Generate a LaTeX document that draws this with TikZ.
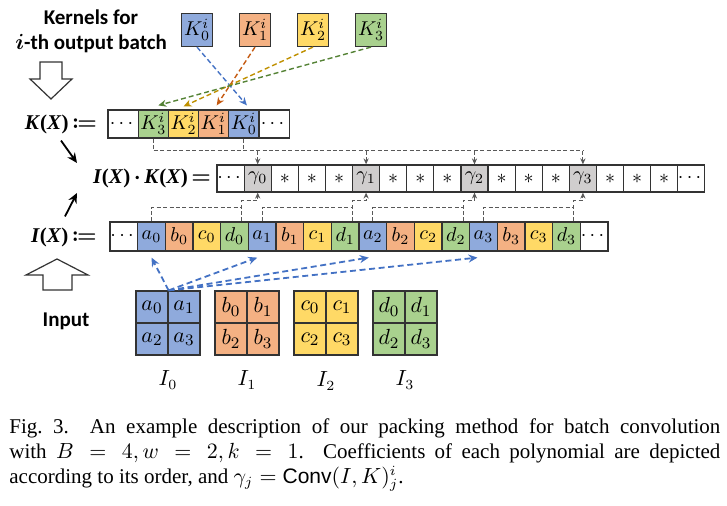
\documentclass[tikz,border=0pt]{standalone}
\usepackage{amsmath,mathtools}
\usepackage{fontspec}
\setmainfont{Liberation Serif}
\newfontfamily\lblfont{Carlito}
\newfontfamily\capsans{Liberation Sans}
\usetikzlibrary{arrows.meta,calc}

\definecolor{cblue}{HTML}{8FAADC}
\definecolor{corange}{HTML}{F4B183}
\definecolor{cyellow}{HTML}{FFD966}
\definecolor{cgreen}{HTML}{A9D18E}
\definecolor{cgray}{HTML}{D0CECE}
\definecolor{dblue}{HTML}{4472C4}
\definecolor{dorange}{HTML}{C55A11}
\definecolor{dyellow}{HTML}{BF9000}
\definecolor{dgreen}{HTML}{548235}

\newcommand{\bx}[1]{\textbf{\textit{#1}}}

\tikzset{
  box/.style={draw=black!80, line width=0.6pt, inner sep=0pt, font=\fontsize{10}{12}\selectfont},
  kcell/.style={box, minimum width=15.1pt, minimum height=14pt},
  gcell/.style={box, minimum width=13.55pt, minimum height=13.5pt},
  icell/.style={box, minimum width=13.83pt, minimum height=14.5pt},
  mcell/.style={box, minimum width=16pt, minimum height=16pt, font=\fontsize{11}{13}\selectfont},
  kern/.style={box, minimum width=15.5pt, minimum height=16.5pt},
  link/.style={draw=black!65, line width=0.5pt, dash pattern=on 2pt off 1.2pt},
  karrow/.style={line width=0.7pt, dash pattern=on 2.5pt off 1.5pt, -{Stealth[length=4pt,width=3.5pt]}},
  iarrow/.style={draw=dblue, line width=0.9pt, dash pattern=on 3pt off 1.8pt, -{Stealth[length=4.5pt,width=4pt]}},
  barrow/.style={line width=0.9pt, -{Stealth[length=5pt,width=4.5pt]}},
  blockarrow/.style={draw=black!80, line width=0.6pt, fill=white},
  lbl/.style={font=\fontsize{10.5}{12.5}\selectfont}
}

\begin{document}
\begin{tikzpicture}[x=0.5pt,y=-0.5pt,>={Stealth[length=3pt,width=2.6pt]}]
\useasboundingbox (0,0) rectangle (727,506);

%left side texts
\node[font=\fontsize{10.5}{12.5}\lblfont\bfseries, align=center] (title) at (91,31) {Kernels for\\ $\boldsymbol{i}$-th output batch};
\node[font=\fontsize{10.5}{12.5}\lblfont\bfseries] (input) at (66,321) {Input};
\draw[blockarrow] (40,62) -- (62,62) -- (62,79) -- (72,79) -- (51,99) -- (30,79) -- (40,79) -- cycle; %down
\draw[blockarrow] (43,290) -- (72,290) -- (72,275) -- (88,275) -- (57,259) -- (26,275) -- (43,275) -- cycle; %up

\node[lbl] (lblK) at (61,124) {\bx{K}\textbf{(}\bx{X}\textbf{)}\,{\boldmath$\coloneqq$}};
\node[lbl] (lblIK) at (152,178) {\bx{I}\textbf{(}\bx{X}\textbf{)}\,{\boldmath$\cdot$}\,\bx{K}\textbf{(}\bx{X}\textbf{)}\,{\boldmath$=$}};
\node[lbl] (lblI) at (64,237) {\bx{I}\textbf{(}\bx{X}\textbf{)}\,{\boldmath$\coloneqq$}};
\draw[barrow] (lblK.south) -- ($(lblIK.west)+(-9,-15)$);
\draw[barrow] ($(lblI.north)+(1,-4)$) -- ($(lblIK.west)+(-9,15)$);

%kernels
\node[kern,fill=cblue] (kern0) at (197,30) {$K_0^i$};
\node[kern,fill=corange] (kern1) at (255,30) {$K_1^i$};
\node[kern,fill=cyellow] (kern2) at (313,30) {$K_2^i$};
\node[kern,fill=cgreen] (kern3) at (371,30) {$K_3^i$};

%K(X)
\node[kcell] (kc0) at (123.1,124) {$\cdots$};
\node[kcell,fill=cgreen] (kc1) at (153.3,124) {$K_3^i$};
\node[kcell,fill=cyellow] (kc2) at (183.5,124) {$K_2^i$};
\node[kcell,fill=corange] (kc3) at (213.7,124) {$K_1^i$};
\node[kcell,fill=cblue] (kc4) at (243.9,124) {$K_0^i$};
\node[kcell] (kc5) at (274.1,124) {$\cdots$};

\draw[karrow,draw=dblue] (kern0.south) -- ($(kc4.north)+(3,-4)$);
\draw[karrow,draw=dorange] (kern1.south) -- ($(kc3.north)+(3,-4)$);
\draw[karrow,draw=dyellow] (kern2.south) -- ($(kc2.north)+(0,-3)$);
\draw[karrow,draw=dgreen] (kern3.south) -- ($(kc1.north)+(5,-4)$);

%I(X)K(X)
\node[gcell] (gl) at (230.6,178.5) {$\cdots$};
\node[gcell,fill=cgray] (g0) at (257.7,178.5) {$\gamma_0$};
\node[gcell] (s1) at (284.8,178.5) {$*$};
\node[gcell] (s2) at (311.9,178.5) {$*$};
\node[gcell] (s3) at (339.0,178.5) {$*$};
\node[gcell,fill=cgray] (g1) at (366.1,178.5) {$\gamma_1$};
\node[gcell] (s4) at (393.2,178.5) {$*$};
\node[gcell] (s5) at (420.3,178.5) {$*$};
\node[gcell] (s6) at (447.4,178.5) {$*$};
\node[gcell,fill=cgray] (g2) at (474.5,178.5) {$\gamma_2$};
\node[gcell] (s7) at (501.6,178.5) {$*$};
\node[gcell] (s8) at (528.7,178.5) {$*$};
\node[gcell] (s9) at (555.8,178.5) {$*$};
\node[gcell,fill=cgray] (g3) at (582.9,178.5) {$\gamma_3$};
\node[gcell] (s10) at (610.0,178.5) {$*$};
\node[gcell] (s11) at (637.1,178.5) {$*$};
\node[gcell] (s12) at (664.2,178.5) {$*$};
\node[gcell] (gr) at (691.3,178.5) {$\cdots$};

%I(X)
\node[icell] (il) at (123.8,236.5) {$\cdots$};
\node[icell,fill=cblue] (a0) at (151.5,236.5) {$a_0$};
\node[icell,fill=corange] (b0) at (179.2,236.5) {$b_0$};
\node[icell,fill=cyellow] (c0) at (206.8,236.5) {$c_0$};
\node[icell,fill=cgreen] (d0) at (234.5,236.5) {$d_0$};
\node[icell,fill=cblue] (a1) at (262.2,236.5) {$a_1$};
\node[icell,fill=corange] (b1) at (289.8,236.5) {$b_1$};
\node[icell,fill=cyellow] (c1) at (317.5,236.5) {$c_1$};
\node[icell,fill=cgreen] (d1) at (345.2,236.5) {$d_1$};
\node[icell,fill=cblue] (a2) at (372.8,236.5) {$a_2$};
\node[icell,fill=corange] (b2) at (400.5,236.5) {$b_2$};
\node[icell,fill=cyellow] (c2) at (428.2,236.5) {$c_2$};
\node[icell,fill=cgreen] (d2) at (455.8,236.5) {$d_2$};
\node[icell,fill=cblue] (a3) at (483.5,236.5) {$a_3$};
\node[icell,fill=corange] (b3) at (511.2,236.5) {$b_3$};
\node[icell,fill=cyellow] (c3) at (538.8,236.5) {$c_3$};
\node[icell,fill=cgreen] (d3) at (566.5,236.5) {$d_3$};
\node[icell] (ir) at (594.2,236.5) {$\cdots$};

%K(X) to products
\coordinate (kbus) at (0,151);
\draw[link] (kc1.south) |- (g3.north |- kbus);
\draw[link] (kc4.south) -- (kc4.south |- kbus);
\draw[link,->] (g0.north |- kbus) -- (g0.north);
\draw[link,->] (g1.north |- kbus) -- (g1.north);
\draw[link,->] (g2.north |- kbus) -- (g2.north);
\draw[link,->] (g3.north |- kbus) -- (g3.north);

%I(X) to products
\draw[link] (a0.north) |- ($(d0.north east)+(-7,-14)$);
\draw[link,->] ($(d0.north east)+(-7,0)$) -- ++(0,-21) -| (g0.south);
\draw[link] (a1.north) |- ($(d1.north east)+(-7,-14)$);
\draw[link,->] ($(d1.north east)+(-7,0)$) -- ++(0,-21) -| (g1.south);
\draw[link] (a2.north) |- ($(d2.north east)+(-7,-14)$);
\draw[link,->] ($(d2.north east)+(-7,0)$) -- ++(0,-21) -| (g2.south);
\draw[link] (a3.north) |- ($(d3.north east)+(-7,-14)$);
\draw[link,->] ($(d3.north east)+(-7,0)$) -- ++(0,-21) -| (g3.south);

%input matrices
\node[mcell,fill=cblue] (ma0) at (152,307) {$a_0$};
\node[mcell,fill=cblue] (ma1) at (184,307) {$a_1$};
\node[mcell,fill=cblue] (ma2) at (152,339) {$a_2$};
\node[mcell,fill=cblue] (ma3) at (184,339) {$a_3$};
\node[mcell,fill=corange] (mb0) at (231,307) {$b_0$};
\node[mcell,fill=corange] (mb1) at (263,307) {$b_1$};
\node[mcell,fill=corange] (mb2) at (231,339) {$b_2$};
\node[mcell,fill=corange] (mb3) at (263,339) {$b_3$};
\node[mcell,fill=cyellow] (mc0) at (310,307) {$c_0$};
\node[mcell,fill=cyellow] (mc1) at (342,307) {$c_1$};
\node[mcell,fill=cyellow] (mc2) at (310,339) {$c_2$};
\node[mcell,fill=cyellow] (mc3) at (342,339) {$c_3$};
\node[mcell,fill=cgreen] (md0) at (389,307) {$d_0$};
\node[mcell,fill=cgreen] (md1) at (421,307) {$d_1$};
\node[mcell,fill=cgreen] (md2) at (389,339) {$d_2$};
\node[mcell,fill=cgreen] (md3) at (421,339) {$d_3$};

\node[lbl] (lbl0) at (168,380) {$I_0$};
\node[lbl] (lbl1) at (247,380) {$I_1$};
\node[lbl] (lbl2) at (326,381) {$I_2$};
\node[lbl] (lbl3) at (405,380) {$I_3$};

\draw[iarrow] (ma0.north east) -- ($(a0.south)+(0,6)$);
\draw[iarrow] (ma0.north east) -- ($(a1.south)+(-5,6)$);
\draw[iarrow] (ma0.north east) -- ($(a2.south)+(-4,6)$);
\draw[iarrow] (ma0.north east) -- ($(a3.south)+(-6,6)$);

%caption
\node[anchor=north west, text width=355.5pt, align=justify, inner sep=0pt, font=\fontsize{10.5}{12.5}\selectfont] (caption) at (9,418)
  {Fig.~3.\hspace{1em}An example description of our packing method for batch convolution\linebreak
   with $B=4, w=2, k=1$. Coefficients of each polynomial are depicted\linebreak
   according to its order, and $\gamma_j=\text{\capsans Conv}(I,K)^i_j$.};
\end{tikzpicture}
\end{document}
